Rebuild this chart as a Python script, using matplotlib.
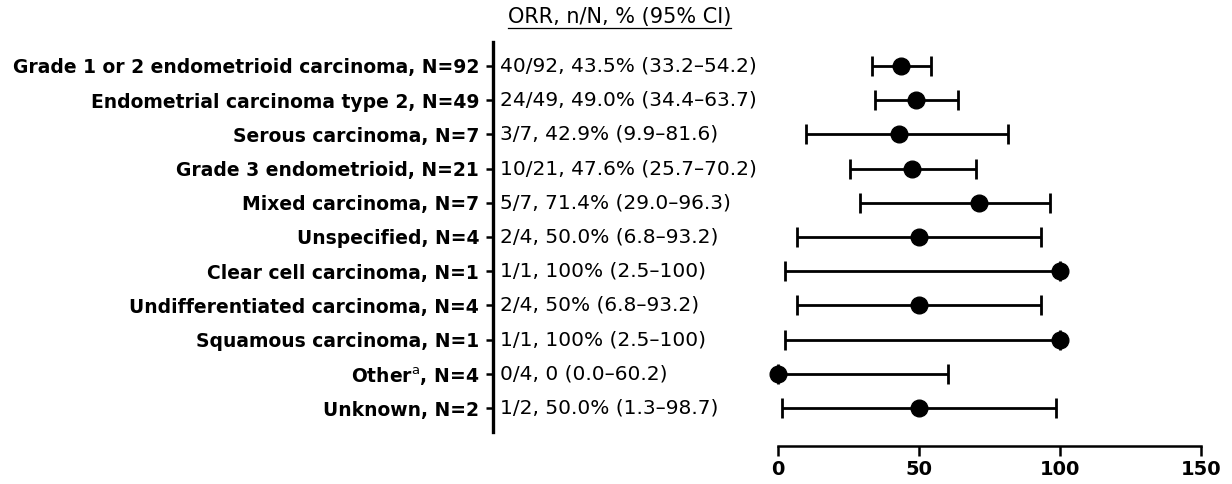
import numpy as np
import matplotlib
matplotlib.use("Agg")
import matplotlib.pyplot as plt
from matplotlib.lines import Line2D

plt.rcParams['font.family'] = ['DejaVu Sans']
plt.rcParams['mathtext.fontset'] = 'custom'
plt.rcParams['mathtext.rm'] = 'DejaVu Sans'
plt.rcParams['mathtext.bf'] = 'DejaVu Sans:bold'

# данные
labels = [
    "Grade 1 or 2 endometrioid carcinoma, N=92",
    "Endometrial carcinoma type 2, N=49",
    "Serous carcinoma, N=7",
    "Grade 3 endometrioid, N=21",
    "Mixed carcinoma, N=7",
    "Unspecified, N=4",
    "Clear cell carcinoma, N=1",
    "Undifferentiated carcinoma, N=4",
    "Squamous carcinoma, N=1",
    r"Other$^{\mathrm{a}}$, N=4",
    "Unknown, N=2",
]
orr_text = [
    "40/92, 43.5% (33.2–54.2)",
    "24/49, 49.0% (34.4–63.7)",
    "3/7, 42.9% (9.9–81.6)",
    "10/21, 47.6% (25.7–70.2)",
    "5/7, 71.4% (29.0–96.3)",
    "2/4, 50.0% (6.8–93.2)",
    "1/1, 100% (2.5–100)",
    "2/4, 50% (6.8–93.2)",
    "1/1, 100% (2.5–100)",
    "0/4, 0 (0.0–60.2)",
    "1/2, 50.0% (1.3–98.7)",
]
orr = np.array([43.5, 49.0, 42.9, 47.6, 71.4, 50.0, 100, 50.0, 100, 0.0, 50.0])
ci_lo = np.array([33.2, 34.4, 9.9, 25.7, 29.0, 6.8, 2.5, 6.8, 2.5, 0.0, 1.3])
ci_hi = np.array([54.2, 63.7, 81.6, 70.2, 96.3, 93.2, 100, 93.2, 100, 60.2, 98.7])
xticks = [0, 50, 100, 150]
header = "ORR, n/N, % (95% CI)"

W, H = 1232, 484
fig = plt.figure(figsize=(W / 100, H / 100), dpi=100)

y = np.arange(len(labels))
top, bottom = 42, 432
ylim = (len(labels) - 0.3, -0.7)

# левая ось с подписями
axl = fig.add_axes([493 / W, 1 - bottom / H, 1 / W, (bottom - top) / H])
axl.set_ylim(*ylim)
axl.set_yticks(y)
axl.set_yticklabels(labels, fontsize=13.5, fontweight='bold')
axl.tick_params(axis='y', length=5, width=1.8, pad=5)
axl.set_xticks([])
for s in ['top', 'right', 'bottom']:
    axl.spines[s].set_visible(False)
axl.spines['left'].set_linewidth(2.4)

# правая ось с точками
ax = fig.add_axes([778 / W, 1 - bottom / H, (1201 - 778) / W, (bottom - top) / H])
for s in ['top', 'right', 'left']:
    ax.spines[s].set_visible(False)
ax.spines['bottom'].set_position(('outward', 10))  # до подписей, иначе сбросит тики
ax.spines['bottom'].set_linewidth(1.8)
ax.set_ylim(*ylim)
ax.set_xlim(0, 150)
ax.errorbar(orr, y, xerr=[orr - ci_lo, ci_hi - orr], fmt='o', color='black',
            markersize=12, elinewidth=2, capsize=7, capthick=2, clip_on=False)
ax.set_yticks([])
ax.set_xticks(xticks)
ax.set_xticklabels([str(t) for t in xticks], fontsize=14, fontweight='bold')
ax.tick_params(axis='x', length=7, width=1.8, pad=3)

# колонка с текстом
trans = matplotlib.transforms.blended_transform_factory(fig.transFigure, axl.transData)
for yi, t in zip(y, orr_text):
    fig.text(500 / W, yi, t, transform=trans, fontsize=14.5, va='center', ha='left')

hdr = fig.text(508 / W, 1 - 17 / H, header, fontsize=15, va='center', ha='left')
fig.canvas.draw()
bb = hdr.get_window_extent()
uy = bb.y0 - 1
fig.add_artist(Line2D([bb.x0 / W, bb.x1 / W], [uy / H, uy / H], color='black', lw=0.9))

fig.savefig("out.png", dpi=100)
